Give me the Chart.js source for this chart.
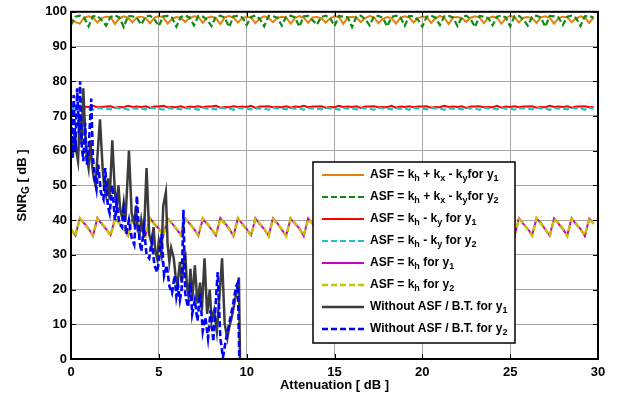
<!DOCTYPE html>
<html>
<head>
<meta charset="utf-8">
<script src="https://cdn.jsdelivr.net/npm/chart.js@4/dist/chart.umd.min.js"></script>
<style>
  html, body { margin: 0; padding: 0; background: #fff; }
  canvas { display: block; }
</style>
</head>
<body>
<canvas id="snrChart" width="622" height="406"></canvas>
<script>
// attenuation grid (dB) shared by the ASF curves
const attenuation = [
  0, 0.25, 0.5, 0.75, 1, 1.25, 1.5, 1.75,
  2, 2.25, 2.5, 2.75, 3, 3.25, 3.5, 3.75,
  4, 4.25, 4.5, 4.75, 5, 5.25, 5.5, 5.75,
  6, 6.25, 6.5, 6.75, 7, 7.25, 7.5, 7.75,
  8, 8.25, 8.5, 8.75, 9, 9.25, 9.5, 9.75,
  10, 10.25, 10.5, 10.75, 11, 11.25, 11.5, 11.75,
  12, 12.25, 12.5, 12.75, 13, 13.25, 13.5, 13.75,
  14, 14.25, 14.5, 14.75, 15, 15.25, 15.5, 15.75,
  16, 16.25, 16.5, 16.75, 17, 17.25, 17.5, 17.75,
  18, 18.25, 18.5, 18.75, 19, 19.25, 19.5, 19.75,
  20, 20.25, 20.5, 20.75, 21, 21.25, 21.5, 21.75,
  22, 22.25, 22.5, 22.75, 23, 23.25, 23.5, 23.75,
  24, 24.25, 24.5, 24.75, 25, 25.25, 25.5, 25.75,
  26, 26.25, 26.5, 26.75, 27, 27.25, 27.5, 27.75,
  28, 28.25, 28.5, 28.75, 29, 29.25, 29.5, 29.75
];

// ASF = kh + kx - ky
const snrHXY1 = [
  98.0, 97.0, 96.6, 98.3, 98.7, 98.4, 96.9, 98.2,
  98.6, 98.5, 96.5, 98.1, 98.7, 98.3, 97.0, 98.4,
  98.6, 98.2, 96.7, 98.3, 98.8, 98.4, 96.6, 98.0,
  98.5, 98.3, 97.1, 98.2, 98.7, 98.5, 96.8, 98.3,
  98.6, 98.1, 96.5, 98.4, 98.8, 98.3, 96.9, 98.2,
  98.5, 98.4, 96.7, 98.1, 98.7, 98.2, 97.0, 98.3,
  98.6, 98.4, 96.6, 98.2, 98.8, 98.3, 96.8, 98.4,
  98.5, 98.2, 96.9, 98.1, 98.7, 98.5, 96.5, 98.3,
  98.6, 98.3, 97.0, 98.2, 98.8, 98.4, 96.7, 98.0,
  98.5, 98.2, 96.6, 98.3, 98.7, 98.4, 96.9, 98.2,
  98.6, 98.5, 96.8, 98.1, 98.8, 98.3, 96.5, 98.4,
  98.5, 98.2, 97.1, 98.3, 98.7, 98.4, 96.7, 98.2,
  98.6, 98.3, 96.6, 98.1, 98.8, 98.5, 96.9, 98.3,
  98.5, 98.2, 96.8, 98.4, 98.7, 98.3, 96.6, 98.2,
  98.6, 98.4, 97.0, 98.1, 98.7, 98.3, 96.8, 98.3
];
const snrHXY2 = [
  96.2, 98.6, 98.9, 98.3, 95.8, 98.7, 98.8, 97.6,
  96.0, 98.5, 98.9, 98.4, 95.6, 98.8, 98.7, 98.2,
  96.3, 98.6, 98.9, 97.8, 95.9, 98.7, 98.8, 98.3,
  95.7, 98.5, 98.9, 98.4, 96.1, 98.8, 98.6, 97.7,
  95.9, 98.6, 98.9, 98.3, 95.6, 98.7, 98.8, 98.4,
  96.2, 98.5, 98.9, 97.9, 95.8, 98.8, 98.7, 98.3,
  96.0, 98.6, 98.9, 98.4, 95.7, 98.7, 98.8, 97.6,
  96.3, 98.5, 98.9, 98.2, 95.9, 98.8, 98.6, 98.4,
  95.6, 98.6, 98.9, 97.8, 96.1, 98.7, 98.8, 98.3,
  95.8, 98.5, 98.9, 98.4, 96.0, 98.8, 98.7, 97.7,
  95.7, 98.6, 98.9, 98.3, 96.2, 98.7, 98.8, 98.4,
  95.9, 98.5, 98.9, 97.9, 95.6, 98.8, 98.6, 98.2,
  96.1, 98.6, 98.9, 98.4, 95.8, 98.7, 98.8, 97.8,
  96.0, 98.5, 98.9, 98.3, 95.7, 98.8, 98.7, 98.4,
  96.2, 98.6, 98.9, 98.2, 95.9, 98.7, 98.8, 98.3
];

// ASF = kh - ky
const snrHY1 = [
  72.5, 72.8, 72.4, 72.7, 72.6, 72.9, 72.5, 72.6,
  72.7, 72.8, 72.4, 72.6, 72.5, 72.9, 72.6, 72.7,
  72.6, 72.8, 72.3, 72.7, 72.7, 72.9, 72.5, 72.6,
  72.5, 72.8, 72.4, 72.7, 72.6, 72.8, 72.5, 72.7,
  72.7, 72.9, 72.4, 72.6, 72.5, 72.8, 72.6, 72.7,
  72.6, 72.9, 72.3, 72.7, 72.7, 72.8, 72.5, 72.6,
  72.5, 72.8, 72.4, 72.7, 72.6, 72.9, 72.5, 72.7,
  72.7, 72.8, 72.4, 72.6, 72.5, 72.9, 72.6, 72.7,
  72.6, 72.8, 72.3, 72.7, 72.7, 72.8, 72.5, 72.6,
  72.5, 72.9, 72.4, 72.7, 72.6, 72.8, 72.5, 72.7,
  72.7, 72.8, 72.4, 72.6, 72.5, 72.9, 72.6, 72.7,
  72.6, 72.8, 72.3, 72.7, 72.7, 72.8, 72.5, 72.6,
  72.5, 72.9, 72.4, 72.7, 72.6, 72.8, 72.5, 72.7,
  72.7, 72.8, 72.4, 72.6, 72.5, 72.9, 72.6, 72.7,
  72.6, 72.8, 72.4, 72.7, 72.7, 72.8, 72.5, 72.6
];
const snrHY2 = [
  72.2, 71.9, 72.3, 72.1, 72.2, 71.8, 72.3, 72.2,
  72.1, 71.9, 72.3, 72.2, 72.2, 71.8, 72.2, 72.1,
  72.2, 71.9, 72.3, 72.2, 72.1, 71.8, 72.3, 72.1,
  72.2, 71.9, 72.2, 72.2, 72.2, 71.8, 72.3, 72.1,
  72.1, 71.9, 72.3, 72.2, 72.2, 71.8, 72.3, 72.2,
  72.2, 71.9, 72.2, 72.1, 72.1, 71.8, 72.3, 72.2,
  72.2, 71.9, 72.3, 72.1, 72.2, 71.8, 72.2, 72.2,
  72.1, 71.9, 72.3, 72.2, 72.2, 71.8, 72.3, 72.1,
  72.2, 71.9, 72.3, 72.2, 72.1, 71.8, 72.3, 72.2,
  72.2, 71.9, 72.2, 72.1, 72.2, 71.8, 72.3, 72.2,
  72.1, 71.9, 72.3, 72.2, 72.2, 71.8, 72.2, 72.1,
  72.2, 71.9, 72.3, 72.2, 72.1, 71.8, 72.3, 72.2,
  72.2, 71.9, 72.3, 72.1, 72.2, 71.8, 72.2, 72.2,
  72.1, 71.9, 72.3, 72.2, 72.2, 71.8, 72.3, 72.1,
  72.2, 71.9, 72.3, 72.2, 72.2, 71.8, 72.3, 72.2
];

// ASF = kh
const snrH1 = [
  37.3, 35.6, 40.4, 39.1, 37.6, 35.4, 40.6, 38.9,
  37.4, 35.7, 40.3, 39.2, 37.5, 35.5, 40.5, 39.0,
  37.2, 35.6, 40.6, 38.8, 37.6, 35.4, 40.4, 39.1,
  37.4, 35.8, 40.5, 39.0, 37.5, 35.5, 40.3, 38.9,
  37.3, 35.6, 40.6, 39.2, 37.6, 35.4, 40.4, 39.0,
  37.5, 35.7, 40.5, 38.8, 37.4, 35.5, 40.6, 39.1,
  37.2, 35.6, 40.4, 39.0, 37.6, 35.4, 40.5, 38.9,
  37.5, 35.8, 40.3, 39.2, 37.3, 35.5, 40.6, 39.0,
  37.4, 35.6, 40.5, 38.8, 37.6, 35.4, 40.4, 39.1,
  37.5, 35.7, 40.6, 39.0, 37.2, 35.5, 40.3, 38.9,
  37.4, 35.6, 40.5, 39.2, 37.6, 35.4, 40.4, 39.0,
  37.3, 35.8, 40.6, 38.8, 37.5, 35.5, 40.5, 39.1,
  37.4, 35.6, 40.3, 39.0, 37.6, 35.4, 40.6, 38.9,
  37.5, 35.7, 40.4, 39.2, 37.3, 35.5, 40.5, 39.0,
  37.4, 35.6, 40.6, 38.8, 37.5, 35.4, 40.4, 39.1
];
const snrH2 = [
  37.5, 35.4, 40.6, 39.0, 37.4, 35.6, 40.4, 39.1,
  37.6, 35.5, 40.5, 39.0, 37.3, 35.7, 40.6, 38.9,
  37.4, 35.4, 40.4, 39.0, 37.5, 35.6, 40.6, 38.9,
  37.6, 35.6, 40.3, 39.2, 37.3, 35.7, 40.5, 39.1,
  37.5, 35.4, 40.4, 39.0, 37.4, 35.6, 40.6, 38.8,
  37.3, 35.5, 40.3, 39.0, 37.6, 35.3, 40.4, 38.9,
  37.4, 35.4, 40.6, 39.2, 37.4, 35.6, 40.3, 39.1,
  37.3, 35.6, 40.5, 39.0, 37.5, 35.3, 40.4, 39.2,
  37.6, 35.4, 40.3, 39.0, 37.4, 35.6, 40.6, 38.9,
  37.3, 35.5, 40.4, 39.2, 37.4, 35.7, 40.5, 39.1,
  37.6, 35.4, 40.3, 39.0, 37.4, 35.6, 40.6, 39.2,
  37.5, 35.6, 40.4, 39.0, 37.3, 35.7, 40.3, 38.9,
  37.6, 35.4, 40.5, 39.2, 37.4, 35.6, 40.4, 39.1,
  37.3, 35.5, 40.6, 39.0, 37.5, 35.3, 40.3, 39.2,
  37.6, 35.4, 40.4, 39.0, 37.3, 35.6, 40.6, 38.9
];

// without ASF / B.T., y1
const attenNoAsf1 = [
  0, 0.1, 0.2, 0.3, 0.4, 0.5, 0.6, 0.7, 0.8, 0.9,
  1.0, 1.1, 1.2, 1.3, 1.4, 1.5, 1.65, 1.8, 1.9, 2.0,
  2.1, 2.2, 2.35, 2.5, 2.6, 2.7, 2.8, 2.9, 3.0, 3.1,
  3.3, 3.45, 3.6, 3.7, 3.8, 3.9, 4.0, 4.15, 4.3, 4.45,
  4.6, 4.7, 4.8, 4.9, 5.0, 5.15, 5.25, 5.4, 5.5, 5.6,
  5.7, 5.85, 5.95, 6.05, 6.2, 6.3, 6.5, 6.6, 6.7, 6.8,
  6.9, 7.05, 7.2, 7.35, 7.45, 7.6, 7.75, 7.9, 8.0, 8.15,
  8.3, 8.45, 8.6, 8.75, 8.9, 9.0, 9.15, 9.3, 9.45, 9.56,
  9.62
];
const snrNoAsf1 = [
  64, 58, 66, 60, 57, 70, 62, 78, 66, 58,
  55, 63, 56, 52, 50, 58, 69, 55, 49, 47,
  52, 46, 63, 48, 44, 50, 43, 41, 45, 40,
  60, 42, 39, 44, 37, 36, 40, 35, 55, 36,
  33, 38, 31, 29, 34, 30, 44, 48, 33, 28,
  32, 29, 24, 21, 28, 22, 31, 21, 18, 26,
  17, 27, 16, 22, 14, 29, 13, 20, 11, 14,
  8, 18, 29, 10, 6, 9, 12, 16, 20, 23.5,
  0
];

// without ASF / B.T., y2
const attenNoAsf2 = [
  0, 0.08, 0.15, 0.25, 0.35, 0.45, 0.52, 0.6, 0.7, 0.8,
  0.9, 1.0, 1.15, 1.25, 1.35, 1.45, 1.55, 1.7, 1.85, 1.95,
  2.1, 2.2, 2.35, 2.5, 2.6, 2.75, 2.9, 3.0, 3.15, 3.3,
  3.45, 3.6, 3.75, 3.9, 4.0, 4.15, 4.3, 4.45, 4.6, 4.75,
  4.9, 5.0, 5.15, 5.3, 5.45, 5.6, 5.75, 5.9, 6.0, 6.1,
  6.2, 6.3, 6.4, 6.5, 6.65, 6.8, 6.9, 7.05, 7.2, 7.35,
  7.5, 7.65, 7.8, 7.95, 8.1, 8.35, 8.5, 8.65, 8.8, 9.0,
  9.2, 9.4, 9.5, 9.58
];
const snrNoAsf2 = [
  72, 58, 76, 60, 78, 65, 80, 62, 57, 68,
  56, 60, 75, 58, 52, 49, 56, 48, 46, 55,
  44, 42, 50, 40, 45, 39, 38, 43, 36, 40,
  35, 33, 47, 34, 31, 38, 30, 29, 34, 27,
  25, 28, 36, 24, 27, 21, 19, 24, 18, 21,
  17, 20, 43, 19, 15, 22, 13, 17, 11, 19,
  8, 12, 6, 14, 5, 25, 6, 0.5, 5, 10,
  15, 21, 22, 0
];

const seriesLabels = [
  'ASF = k_h + k_x - k_yfor y_1',
  'ASF = k_h + k_x - k_yfor y_2',
  'ASF = k_h - k_y for y_1',
  'ASF = k_h - k_y for y_2',
  'ASF = k_h for y_1',
  'ASF = k_h for y_2',
  'Without ASF / B.T. for y_1',
  'Without ASF / B.T. for y_2'
];

const xTicks = [0, 5, 10, 15, 20, 25, 30];
const yTicks = [0, 10, 20, 30, 40, 50, 60, 70, 80, 90, 100];

const FONT = '"Liberation Sans", Arial, sans-serif';

function pairs(xs, ys) {
  return xs.map((x, i) => ({ x: x, y: ys[i] }));
}

const styles = [
  { color: '#e0820c', dash: [], width: 2 },
  { color: '#128a12', dash: [6, 3], width: 2.2 },
  { color: '#ff0000', dash: [], width: 2 },
  { color: '#19c4c4', dash: [6, 3], width: 2.2 },
  { color: '#cc00cc', dash: [], width: 2 },
  { color: '#c4c400', dash: [6, 3], width: 2.5 },
  { color: '#3c3c3c', dash: [], width: 2.5 },
  { color: '#0000ff', dash: [6, 3], width: 2.6 }
];

const seriesData = [
  pairs(attenuation, snrHXY1),
  pairs(attenuation, snrHXY2),
  pairs(attenuation, snrHY1),
  pairs(attenuation, snrHY2),
  pairs(attenuation, snrH1),
  pairs(attenuation, snrH2),
  pairs(attenNoAsf1, snrNoAsf1),
  pairs(attenNoAsf2, snrNoAsf2)
];

// split "k_h" style labels into normal / subscript parts
function segments(label) {
  const out = [];
  let buf = '';
  for (let i = 0; i < label.length; i++) {
    if (label[i] === '_' && i + 1 < label.length) {
      if (buf) out.push({ t: buf, sub: false });
      buf = '';
      out.push({ t: label[i + 1], sub: true });
      i++;
    } else {
      buf += label[i];
    }
  }
  if (buf) out.push({ t: buf, sub: false });
  return out;
}

function drawRich(ctx, label, x, y, size, subSize, subDrop) {
  let cx = x;
  segments(label).forEach(s => {
    ctx.font = 'bold ' + (s.sub ? subSize : size) + 'px ' + FONT;
    ctx.fillText(s.t, cx, y + (s.sub ? subDrop : 0));
    cx += ctx.measureText(s.t).width;
  });
  return cx - x;
}

function richWidth(ctx, label, size, subSize) {
  let w = 0;
  segments(label).forEach(s => {
    ctx.font = 'bold ' + (s.sub ? subSize : size) + 'px ' + FONT;
    w += ctx.measureText(s.t).width;
  });
  return w;
}

const matlabFrame = {
  id: 'matlabFrame',
  afterDatasetsDraw(chart) {
    const ctx = chart.ctx;
    const a = chart.chartArea;
    const xs = chart.scales.x, ys = chart.scales.y;
    ctx.save();
    ctx.strokeStyle = '#000';
    // inner tick marks
    ctx.lineWidth = 1;
    ctx.beginPath();
    xTicks.forEach(v => {
      const px = Math.round(xs.getPixelForValue(v)) + 0.5;
      ctx.moveTo(px, a.bottom); ctx.lineTo(px, a.bottom - 5);
      ctx.moveTo(px, a.top); ctx.lineTo(px, a.top + 5);
    });
    yTicks.forEach(v => {
      const py = Math.round(ys.getPixelForValue(v)) + 0.5;
      ctx.moveTo(a.left, py); ctx.lineTo(a.left + 5, py);
      ctx.moveTo(a.right, py); ctx.lineTo(a.right - 5, py);
    });
    ctx.stroke();
    // box
    ctx.lineWidth = 2;
    ctx.strokeRect(a.left, a.top, a.right - a.left, a.bottom - a.top);

    // legend
    const lx = 313, ly = 162, lw = 202, lh = 181;
    ctx.fillStyle = '#fff';
    ctx.fillRect(lx, ly, lw, lh);
    ctx.lineWidth = 1.5;
    ctx.strokeStyle = '#000';
    ctx.strokeRect(lx, ly, lw, lh);
    ctx.textBaseline = 'middle';
    ctx.textAlign = 'left';
    seriesLabels.forEach((lab, i) => {
      const cy = 175 + i * 22;
      const st = styles[i];
      ctx.strokeStyle = st.color;
      ctx.lineWidth = st.width;
      ctx.setLineDash(st.dash);
      ctx.beginPath();
      ctx.moveTo(322, cy); ctx.lineTo(364, cy);
      ctx.stroke();
      ctx.setLineDash([]);
      ctx.fillStyle = '#000';
      drawRich(ctx, lab, 370, cy, 12, 9, 4);
    });

    // axis titles
    ctx.fillStyle = '#000';
    ctx.textAlign = 'center';
    ctx.font = 'bold 13px ' + FONT;
    ctx.fillText('Attenuation [ dB ]', (a.left + a.right) / 2, 385);
    const yTitle = 'SNR_G [ dB ]';
    ctx.translate(22, (a.top + a.bottom) / 2);
    ctx.rotate(-Math.PI / 2);
    ctx.textAlign = 'left';
    const w = richWidth(ctx, yTitle, 13, 10);
    drawRich(ctx, yTitle, -w / 2, 0, 13, 10, 4);
    ctx.restore();
  }
};

new Chart(document.getElementById('snrChart').getContext('2d'), {
  type: 'line',
  data: {
    datasets: seriesData.map((d, i) => ({
      label: seriesLabels[i].replace(/_/g, ''),
      data: d,
      borderColor: styles[i].color,
      borderWidth: styles[i].width,
      borderDash: styles[i].dash,
      pointRadius: 0,
      tension: 0,
      fill: false,
      order: 10 - i
    }))
  },
  options: {
    responsive: false,
    animation: false,
    layout: { padding: { top: 8, right: 24, left: 0, bottom: 0 } },
    plugins: {
      legend: { display: false },
      tooltip: { enabled: false }
    },
    scales: {
      x: {
        type: 'linear',
        min: 0,
        max: 30,
        afterFit(scale) { scale.height = 47; },
        afterBuildTicks(scale) { scale.ticks = xTicks.map(v => ({ value: v })); },
        ticks: {
          color: '#000',
          padding: 6,
          maxRotation: 0,
          font: { family: FONT, size: 13, weight: 'bold' }
        },
        grid: { color: '#a6a6a6', lineWidth: 1, drawTicks: false },
        border: { display: false }
      },
      y: {
        type: 'linear',
        min: 0,
        max: 100,
        afterFit(scale) { scale.width = 71; },
        afterBuildTicks(scale) { scale.ticks = yTicks.map(v => ({ value: v })); },
        ticks: {
          color: '#000',
          padding: 4,
          font: { family: FONT, size: 13, weight: 'bold' }
        },
        grid: { color: '#a6a6a6', lineWidth: 1, drawTicks: false },
        border: { display: false }
      }
    }
  },
  plugins: [matlabFrame]
});
</script>
</body>
</html>
